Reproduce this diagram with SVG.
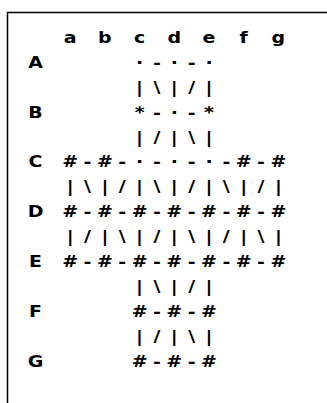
<svg xmlns="http://www.w3.org/2000/svg" width="327" height="403" viewBox="0 0 327 403">
<style>
.t{font-family:"DejaVu Sans","Verdana",sans-serif;font-weight:bold;font-size:16.5px;fill:#000;text-anchor:middle}
.frame{fill:none;stroke:#000;stroke-width:1.5}
</style>
<rect width="327" height="403" fill="#fff"/>
<rect class="frame" x="7.5" y="12.5" width="400" height="420"/>
<g transform="scale(1.15,1)">
<g id="header">
<text class="t" x="61.04 76.13 91.22 106.3 121.39 136.48 151.57 166.65 181.74 196.83 211.91 227 242.09" y="43">a b c d e f g</text>
</g>
<g id="labels">
<text class="t" x="30.87" y="67.9">A</text>
<text class="t" x="30.87" y="117.7">B</text>
<text class="t" x="30.87" y="167.5">C</text>
<text class="t" x="30.87" y="217.3">D</text>
<text class="t" x="30.87" y="267.1">E</text>
<text class="t" x="30.87" y="316.9">F</text>
<text class="t" x="30.87" y="366.7">G</text>
</g>
<g id="grid">
<text class="t" x="121.39 136.48 151.57 166.65 181.74" y="67.9">·-·-·</text>
<text class="t" x="121.39 136.48 151.57 166.65 181.74" y="92.8">|\|/|</text>
<text class="t" x="121.39 136.48 151.57 166.65 181.74" y="117.7">*-·-*</text>
<text class="t" x="121.39 136.48 151.57 166.65 181.74" y="142.6">|/|\|</text>
<text class="t" x="61.04 76.13 91.22 106.3 121.39 136.48 151.57 166.65 181.74 196.83 211.91 227 242.09" y="167.5">#-#-·-·-·-#-#</text>
<text class="t" x="61.04 76.13 91.22 106.3 121.39 136.48 151.57 166.65 181.74 196.83 211.91 227 242.09" y="192.4">|\|/|\|/|\|/|</text>
<text class="t" x="61.04 76.13 91.22 106.3 121.39 136.48 151.57 166.65 181.74 196.83 211.91 227 242.09" y="217.3">#-#-#-#-#-#-#</text>
<text class="t" x="61.04 76.13 91.22 106.3 121.39 136.48 151.57 166.65 181.74 196.83 211.91 227 242.09" y="242.2">|/|\|/|\|/|\|</text>
<text class="t" x="61.04 76.13 91.22 106.3 121.39 136.48 151.57 166.65 181.74 196.83 211.91 227 242.09" y="267.1">#-#-#-#-#-#-#</text>
<text class="t" x="121.39 136.48 151.57 166.65 181.74" y="292">|\|/|</text>
<text class="t" x="121.39 136.48 151.57 166.65 181.74" y="316.9">#-#-#</text>
<text class="t" x="121.39 136.48 151.57 166.65 181.74" y="341.8">|/|\|</text>
<text class="t" x="121.39 136.48 151.57 166.65 181.74" y="366.7">#-#-#</text>
</g>
</g>
</svg>
